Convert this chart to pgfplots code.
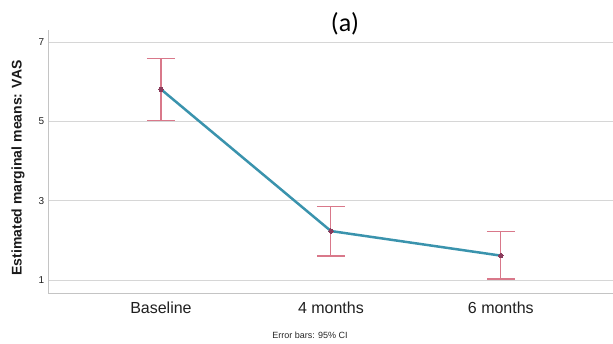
\documentclass[border=0pt]{standalone}
\usepackage{pgfplots}
\pgfplotsset{compat=1.18}
\usepackage{fontspec}
\setmainfont{Liberation Sans}
\newfontfamily\titlefont{Carlito}
\definecolor{lineteal}{HTML}{3A93AD}
\definecolor{errpink}{HTML}{D9788A}
\definecolor{markpurp}{HTML}{8A3B5C}
\definecolor{gridgray}{HTML}{D6D6D6}
\definecolor{axgray}{HTML}{C4C4C4}
\begin{document}
\begin{tikzpicture}
\useasboundingbox (-48.3pt,-49.7pt) rectangle (564.7pt,293.3pt);
\begin{axis}[
  at={(0pt,0pt)}, anchor=south west,
  scale only axis,
  width=564.7pt, height=263.3pt,
  xmin=-0.663, xmax=2.66,
  ymin=0.67, ymax=7.31,
  axis x line=bottom, axis y line=left,
  axis line style={-, draw=axgray, line width=1.3pt},
  xtick={0,1,2},
  xticklabels={Baseline,4 months,6 months},
  ytick={1,3,5,7},
  ymajorgrids,
  grid style={gridgray, line width=0.9pt},
  major tick length=0pt,
  tick style={draw=none},
  /pgf/number format/assume math mode=true,
  xticklabel style={font=\fontsize{16}{18}\selectfont, anchor=base, inner sep=0pt, yshift=-19.7pt, text=black!88},
  yticklabel style={font=\fontsize{10}{12}\selectfont, anchor=east, inner sep=0pt, xshift=-4pt, text=black!88},
  ylabel={Estimated marginal means: VAS},
  every axis y label/.style={at={(axis description cs:0,0.476)}, rotate=90, anchor=center, yshift=30.3pt, font=\bfseries\fontsize{14}{16}\selectfont, text=black!90},
  title={(a)},
  every axis title/.style={at={(axis description cs:0.5254,1)}, anchor=center, yshift=6pt, font=\titlefont\fontsize{26}{30}\selectfont},
  clip=false,
]
\addplot[draw=none, mark=none, forget plot,
  error bars/.cd, y dir=both, y explicit,
  error bar style={errpink, line width=1.1pt},
  error mark options={rotate=90, mark size=14pt, errpink, line width=1.1pt}]
  coordinates {
    (0,5.815) += (0,0.785) -= (0,0.795)
    (1,2.24)  += (0,0.63)  -= (0,0.63)
    (2,1.62)  += (0,0.60)  -= (0,0.59)
  };
\addplot[lineteal, line width=2.5pt, mark=*, mark size=2.2pt,
  mark options={fill=markpurp, draw=markpurp, line width=0pt}]
  coordinates {(0,5.815) (1,2.24) (2,1.62)};
\node[font=\fontsize{9}{10}\selectfont, text=black!85, anchor=center]
  at (axis description cs:0.4634,0) [yshift=-41.7pt] {Error bars: 95\% CI};
\end{axis}
\end{tikzpicture}
\end{document}
